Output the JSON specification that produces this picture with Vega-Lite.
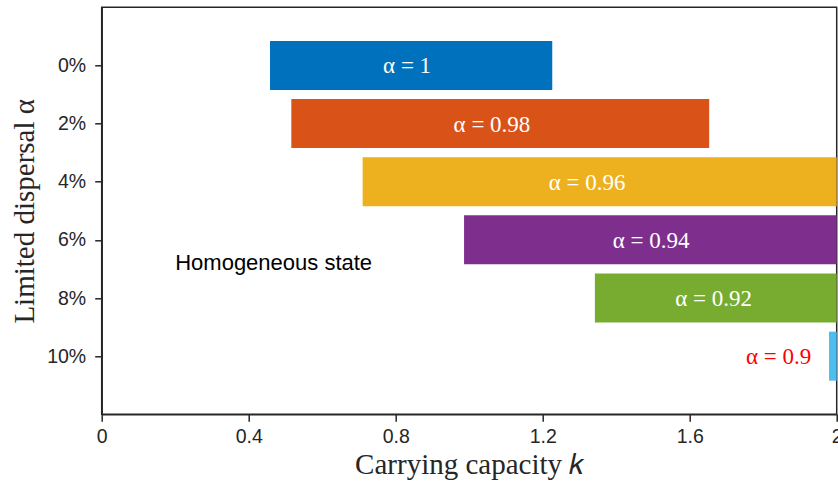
{
  "$schema": "https://vega.github.io/schema/vega-lite/v6.json",
  "width": 735,
  "height": 407,
  "autosize": "none",
  "padding": {"left": 101.7, "top": 7.3, "right": 1.3, "bottom": 70.7},
  "background": "white",
  "config": {
    "view": {"stroke": "#262626", "strokeWidth": 1.5},
    "axis": {
      "domainColor": "#262626",
      "domainWidth": 1.5,
      "tickColor": "#262626",
      "tickWidth": 1.5,
      "tickSize": 7,
      "grid": false,
      "labelFont": "Liberation Sans",
      "labelFontSize": 19.5,
      "labelColor": "#262626",
      "labelFlush": false,
      "titleFont": "Liberation Serif",
      "titleFontSize": 29,
      "titleFontWeight": "normal",
      "titleColor": "#262626"
    }
  },
  "datasets": {
    "bars": [
      {"dispersal": 0, "alpha": "α = 1", "k_start": 0.458, "k_end": 1.226, "k_label": 0.831, "colour": "#0072BD"},
      {"dispersal": 2, "alpha": "α = 0.98", "k_start": 0.516, "k_end": 1.653, "k_label": 1.062, "colour": "#D95319"},
      {"dispersal": 4, "alpha": "α = 0.96", "k_start": 0.710, "k_end": 2.0, "k_label": 1.321, "colour": "#EDB120"},
      {"dispersal": 6, "alpha": "α = 0.94", "k_start": 0.986, "k_end": 2.0, "k_label": 1.495, "colour": "#7E2F8E"},
      {"dispersal": 8, "alpha": "α = 0.92", "k_start": 1.342, "k_end": 2.0, "k_label": 1.665, "colour": "#77AC30"},
      {"dispersal": 10, "alpha": "α = 0.9", "k_start": 1.979, "k_end": 2.0, "k_label": null, "colour": "#4DBEEE"}
    ],
    "notes": [
      {"k": 1.931, "dispersal": 10, "text": "α = 0.9"}
    ],
    "regions": [
      {"k": 0.2, "dispersal": 6.8, "text": "Homogeneous state"}
    ]
  },
  "layer": [
    {
      "data": {"name": "bars"},
      "mark": {"type": "bar", "orient": "horizontal", "size": 49, "clip": false},
      "encoding": {
        "x": {
          "field": "k_start",
          "type": "quantitative",
          "scale": {"domain": [0, 2], "nice": false, "zero": false, "padding": 0},
          "axis": {
            "values": [0, 0.4, 0.8, 1.2, 1.6, 2],
            "labelExpr": "datum.value == 0 ? '0' : datum.value == 2 ? '2' : format(datum.value, '.1f')",
            "labelPadding": 6,
            "title": "Carrying capacity 𝑘",
            "titlePadding": 5
          }
        },
        "x2": {"field": "k_end"},
        "y": {
          "field": "dispersal",
          "type": "quantitative",
          "scale": {"domain": [-2, 12], "reverse": true, "nice": false, "zero": false, "padding": 0},
          "axis": {
            "values": [0, 2, 4, 6, 8, 10],
            "labelExpr": "datum.value + '%'",
            "labelPadding": 9,
            "title": "Limited dispersal α",
            "titlePadding": 7
          }
        },
        "color": {"field": "colour", "type": "nominal", "scale": null}
      }
    },
    {
      "data": {"name": "bars"},
      "transform": [{"filter": "datum.k_label != null"}],
      "mark": {"type": "text", "font": "Liberation Serif", "fontSize": 23, "color": "white", "align": "center", "baseline": "middle", "dy": 1},
      "encoding": {
        "x": {"field": "k_label", "type": "quantitative"},
        "y": {"field": "dispersal", "type": "quantitative"},
        "text": {"field": "alpha"}
      }
    },
    {
      "data": {"name": "notes"},
      "mark": {"type": "text", "font": "Liberation Serif", "fontSize": 23, "color": "#FF0000", "align": "right", "baseline": "middle", "dy": 1},
      "encoding": {
        "x": {"field": "k", "type": "quantitative"},
        "y": {"field": "dispersal", "type": "quantitative"},
        "text": {"field": "text"}
      }
    },
    {
      "data": {"name": "regions"},
      "mark": {"type": "text", "font": "Liberation Sans", "fontSize": 22, "color": "black", "align": "left", "baseline": "middle"},
      "encoding": {
        "x": {"field": "k", "type": "quantitative"},
        "y": {"field": "dispersal", "type": "quantitative"},
        "text": {"field": "text"}
      }
    }
  ]
}
